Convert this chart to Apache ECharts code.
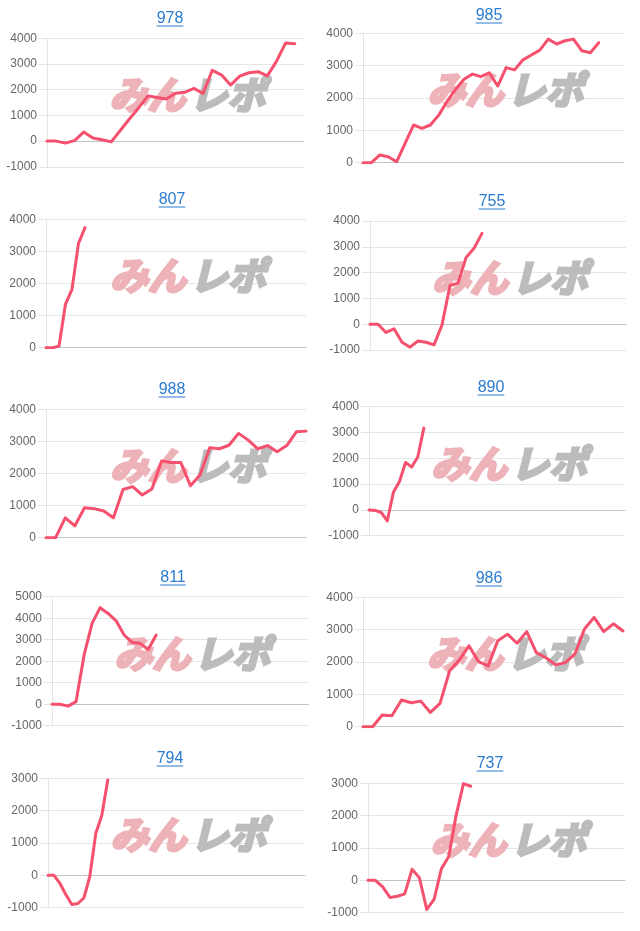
<!DOCTYPE html>
<html>
<head>
<meta charset="utf-8">
<script src="https://cdn.jsdelivr.net/npm/echarts@6/dist/echarts.min.js"></script>
<style>
  html, body { margin: 0; padding: 0; background: #fff; }
  #chart { width: 640px; height: 931px; }
</style>
</head>
<body>
<div id="chart"></div>
<script>
// 台番号ごとの差枚推移
const machineNames = ['978', '985', '807', '755', '988', '890', '811', '986', '794', '737']
const dayCounts = [29, 32, 41, 33, 28, 43, 33, 28, 44, 36]
const yMins = [-1000, 0, 0, -1000, 0, -1000, -1000, 0, -1000, -1000]
const yMaxs = [4000, 4000, 4000, 4000, 4000, 4000, 5000, 4000, 3000, 3000]

const diff978 = [0, 0, -80, 20, 350, 120, 50, -30, 420, 870, 1300, 1760, 1700, 1640, 1860, 1900, 2050, 1850, 2750, 2580, 2180, 2530, 2660, 2700, 2540, 3100, 3820, 3790]
const diff985 = [0, 0, 240, 185, 30, 600, 1165, 1060, 1165, 1470, 1900, 2270, 2580, 2740, 2660, 2780, 2370, 2940, 2870, 3180, 3330, 3480, 3820, 3670, 3770, 3820, 3460, 3400, 3710]
const diff807 = [0, 0, 50, 1360, 1820, 3250, 3740]
const diff755 = [0, 0, -320, -180, -700, -890, -650, -700, -800, -30, 1500, 1590, 2580, 2940, 3520]
const diff988 = [0, 0, 620, 370, 935, 905, 830, 620, 1500, 1590, 1330, 1520, 2390, 2340, 2340, 1620, 1950, 2800, 2770, 2880, 3250, 3040, 2770, 2870, 2680, 2870, 3300, 3320]
const diff890 = [0, -20, -100, -430, 680, 1100, 1840, 1660, 2050, 3170]
const diff811 = [0, 0, -90, 120, 2280, 3760, 4490, 4220, 3880, 3220, 2870, 2830, 2540, 3220]
const diff986 = [0, 0, 360, 340, 825, 740, 790, 440, 720, 1730, 2060, 2500, 2010, 1880, 2660, 2860, 2580, 2940, 2290, 2130, 1910, 1980, 2240, 3020, 3380, 2940, 3180, 2960]
const diff794 = [0, 0, -250, -600, -900, -870, -700, -30, 1300, 1850, 2950]
const diff737 = [0, 0, -200, -530, -490, -420, 340, 80, -900, -590, 360, 740, 2010, 2990, 2910]

const diffs = [diff978, diff985, diff807, diff755, diff988, diff890, diff811, diff986, diff794, diff737]

// 配置 [left, top, width, height]
const gridBoxes = [
  [47, 38.3, 257, 128.5],
  [363, 33.3, 261, 129.4],
  [46, 219.3, 260, 128.4],
  [370, 221, 256, 129],
  [46, 409.3, 260, 128.4],
  [369, 406.7, 256, 129],
  [52, 596.7, 256.5, 129],
  [363, 597.3, 260, 129.4],
  [48, 778.3, 257, 129.4],
  [368, 783.3, 257, 129.4]
]
const titlePos = [
  [170, 19], [489, 16], [172, 200], [492, 202], [172, 390],
  [491, 388], [173, 578], [489, 579], [170, 759], [490, 764]
]

const LINK_COLOR = '#2b7bd0'
const LINE_COLOR = '#f5506d'
const TITLE_FONT = '16px Arial, "Liberation Sans", sans-serif'
const MARK_FONT = 'italic bold 38px "Noto Sans CJK JP"'

const measureCtx = document.createElement('canvas').getContext('2d')
function textWidth(text, font) {
  measureCtx.font = font
  return measureCtx.measureText(text).width
}

const chart = echarts.init(document.getElementById('chart'))

const grids = []
const xAxes = []
const yAxes = []
const series = []
const graphics = []

machineNames.forEach((name, i) => {
  const [left, top, width, height] = gridBoxes[i]
  grids.push({ left, top, width, height, containLabel: false })

  xAxes.push({
    type: 'category',
    gridIndex: i,
    boundaryGap: false,
    data: Array.from({ length: dayCounts[i] }, (_, d) => `${d + 1}日`),
    axisLabel: { show: false },
    axisTick: { show: false },
    splitLine: { show: false },
    axisLine: { show: true, onZero: true, lineStyle: { color: '#c4c4c4', width: 1 } }
  })

  yAxes.push({
    type: 'value',
    gridIndex: i,
    min: yMins[i],
    max: yMaxs[i],
    interval: 1000,
    axisLine: { show: true, lineStyle: { color: '#e4e4e4' } },
    axisTick: { show: true, length: 8, lineStyle: { color: '#e4e4e4' } },
    axisLabel: {
      color: '#666',
      fontSize: 12,
      margin: 10,
      fontFamily: 'Arial, "Liberation Sans", sans-serif',
      formatter: (v) => String(v)
    },
    splitLine: { show: true, lineStyle: { color: '#e6e6e6' } }
  })

  series.push({
    type: 'line',
    name,
    xAxisIndex: i,
    yAxisIndex: i,
    data: diffs[i],
    showSymbol: false,
    smooth: false,
    lineStyle: { width: 3, color: LINE_COLOR, join: 'round', cap: 'round' },
    itemStyle: { color: LINE_COLOR },
    z: 3
  })

  // タイトル（リンク風）
  const [tx, ty] = titlePos[i]
  const tw = textWidth(name, TITLE_FONT)
  graphics.push({
    type: 'text',
    x: tx,
    y: ty,
    style: {
      text: name,
      font: TITLE_FONT,
      fill: LINK_COLOR,
      textAlign: 'center',
      textVerticalAlign: 'middle'
    }
  })
  graphics.push({
    type: 'line',
    shape: { x1: tx - tw / 2, y1: ty + 7, x2: tx + tw / 2, y2: ty + 7 },
    style: { stroke: LINK_COLOR, lineWidth: 1 }
  })

  // ウォーターマーク
  const cx = left + width / 2 + 11
  const cy = top + height / 2 - 8
  graphics.push({
    type: 'text',
    x: cx - 1,
    y: cy,
    z: 1,
    style: {
      text: 'みん',
      font: MARK_FONT,
      fill: '#edb3b9',
      stroke: '#edb3b9',
      lineWidth: 3,
      textAlign: 'right',
      textVerticalAlign: 'middle'
    }
  })
  graphics.push({
    type: 'text',
    x: cx + 3,
    y: cy,
    z: 1,
    style: {
      text: 'レポ',
      font: MARK_FONT,
      fill: '#bcbcbc',
      stroke: '#bcbcbc',
      lineWidth: 3,
      textAlign: 'left',
      textVerticalAlign: 'middle'
    }
  })
})

chart.setOption({
  animation: false,
  grid: grids,
  xAxis: xAxes,
  yAxis: yAxes,
  series,
  graphic: graphics
})
</script>
</body>
</html>
